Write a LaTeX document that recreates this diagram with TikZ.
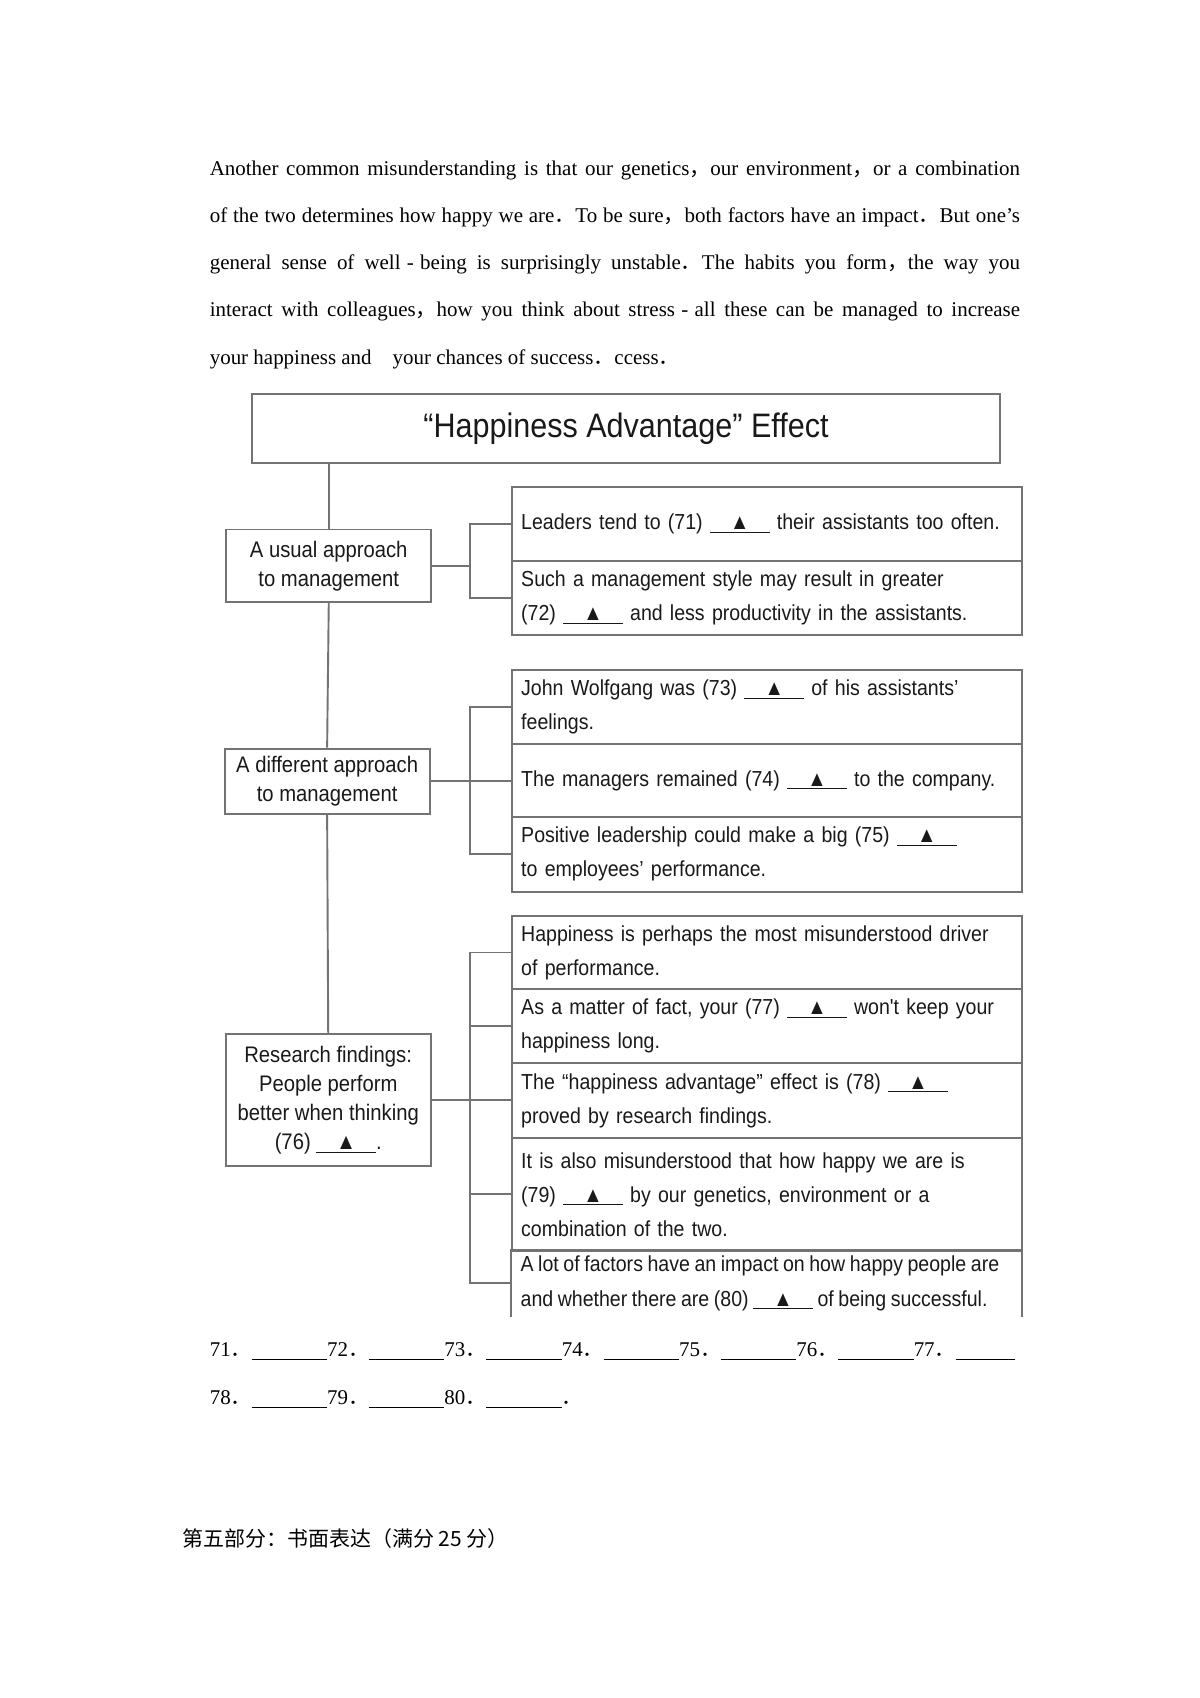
\documentclass[tikz,border=0pt]{standalone}
\usepackage{fontspec}
\setmainfont{Liberation Serif}
\newfontfamily\cjk{Noto Sans CJK SC}
\newfontfamily\chart[FakeStretch=0.9]{Liberation Sans}
\newcommand{\fc}{{\cjk ，}}
\newcommand{\fp}{{\cjk ．}}
\newcommand{\fd}{\hspace{0.3em}-\hspace{0.3em}}
\newcommand{\gap}{\underline{\makebox[1.1cm]{▲}}}
\newcommand{\ans}{\underline{\hspace{1.39cm}}}

\begin{document}
\begin{tikzpicture}[x=0.02cm,y=-0.02cm,
    para/.style={anchor=west,inner sep=0pt,font=\fontsize{11}{13}\selectfont},
    line/.style={draw=black!55,line width=1pt},
    head/.style={line,minimum width=13.8cm,minimum height=1.28cm,font=\chart\fontsize{17.8}{20}\selectfont,text=black!90},
    side/.style={line,minimum width=3.78cm,align=center,inner sep=0pt,font=\chart\fontsize{11.8}{15.3}\selectfont,text=black!90},
    row/.style={anchor=north west,minimum width=9.4cm,text width=9.06cm,inner xsep=0.17cm,inner ysep=0pt,align=left,font=\chart\fontsize{11.4}{17.9}\selectfont,text=black!90}]
    \useasboundingbox (0,0) rectangle (1106,1565);
    \node[para] (p1) at (193,157) {\makebox[14.94cm][s]{Another common misunderstanding is that our genetics\fc our environment\fc or a combination}};
    \node[para] (p2) at (193,200) {\makebox[14.94cm][s]{of the two determines how happy we are\fp To be sure\fc both factors have an impact\fp But one's}};
    \node[para] (p3) at (193,244) {\makebox[14.94cm][s]{general sense of well\fd being is surprisingly unstable\fp The habits you form\fc the way you}};
    \node[para] (p4) at (193,287) {\makebox[14.94cm][s]{interact with colleagues\fc how you think about stress\fd all these can be managed to increase}};
    \node[para] (p5) at (193,331) {your happiness and\quad your chances of success\fp ccess\fp};
    \node[head] (title) at (577,395) {“Happiness Advantage” Effect};
    \node[side,minimum height=1.34cm] (usual) at (303,521.5) {A usual approach\\to management};
    \node[side,minimum height=1.2cm] (diff) at (301.5,720) {A different approach\\to management};
    \node[side,minimum height=2.44cm] (res) at (302.5,1014) {Research findings:\\People perform\\better when thinking\\(76) \gap.};
    \node[row,line,minimum height=1.36cm] (a1) at (471,448) {Leaders tend to (71) \gap\ their assistants too often.};
    \node[row,line,minimum height=1.36cm] (a2) at (471,516) {Such a management style may result in greater\\(72) \gap\ and less productivity in the assistants.};
    \node[row,line,minimum height=1.36cm] (b1) at (471,617) {John Wolfgang was (73) \gap\ of his assistants’\\feelings.};
    \node[row,line,minimum height=1.34cm] (b2) at (471,685) {The managers remained (74) \gap\ to the company.};
    \node[row,line,minimum height=1.38cm] (b3) at (471,752) {Positive leadership could make a big (75) \gap\\to employees’ performance.};
    \node[row,line,minimum height=1.36cm] (c1) at (471,843) {Happiness is perhaps the most misunderstood driver\\of performance.};
    \node[row,line,minimum height=1.36cm] (c2) at (471,911) {As a matter of fact, your (77) \gap\ won't keep your\\happiness long.};
    \node[row,line,minimum height=1.38cm] (c3) at (471,979) {The “happiness advantage” effect is (78) \gap\\proved by research findings.};
    \node[row,line,minimum height=2.08cm] (c4) at (471,1048) {It is also misunderstood that how happy we are is\\(79) \gap\ by our genetics, environment or a\\combination of the two.};
    \node[row,minimum height=1.22cm] (c5) at (471,1152) {\spaceskip=0.21em plus 0.05em A lot of factors have an impact on how happy people are\\and whether there are (80) \gap\ of being successful.};
    \draw[line] (c5.south west) -- (c5.north west) -- (c5.north east) -- (c5.south east);
    \coordinate (k) at (433,0);
    \draw[line] (title.south -| usual.north) -- (usual.north);
    \draw[line] (usual.south) -- (diff.north);
    \draw[line] (diff.south) -- (res.north);
    \draw[line] (usual.east) -- (usual.east -| k);
    \draw[line] (a1.west) -- (a1.west -| k) -- (a2.west -| k) -- (a2.west);
    \draw[line] (diff.east) -- (diff.east -| b2.west);
    \draw[line] (b1.west) -- (b1.west -| k) -- (b3.west -| k) -- (b3.west);
    \draw[line] (res.east) -- (res.east -| c3.west);
    \draw[line] (c1.west) -- (c1.west -| k) -- (c5.west -| k) -- (c5.west);
    \draw[line] (c2.west -| k) -- (c2.west);
    \draw[line] (c4.west -| k) -- (c4.west);
    \node[para] (ans1) at (193,1246) {71\fp\ans72\fp\ans73\fp\ans74\fp\ans75\fp\ans76\fp\ans77\fp\underline{\hspace{1.1cm}}};
    \node[para] (ans2) at (193,1290) {78\fp\ans79\fp\ans80\fp\ans\fp};
    \node[para,font=\cjk\fontsize{11}{13}\selectfont] (part) at (168,1418) {第五部分：书面表达（满分 25 分）};
\end{tikzpicture}
\end{document}
